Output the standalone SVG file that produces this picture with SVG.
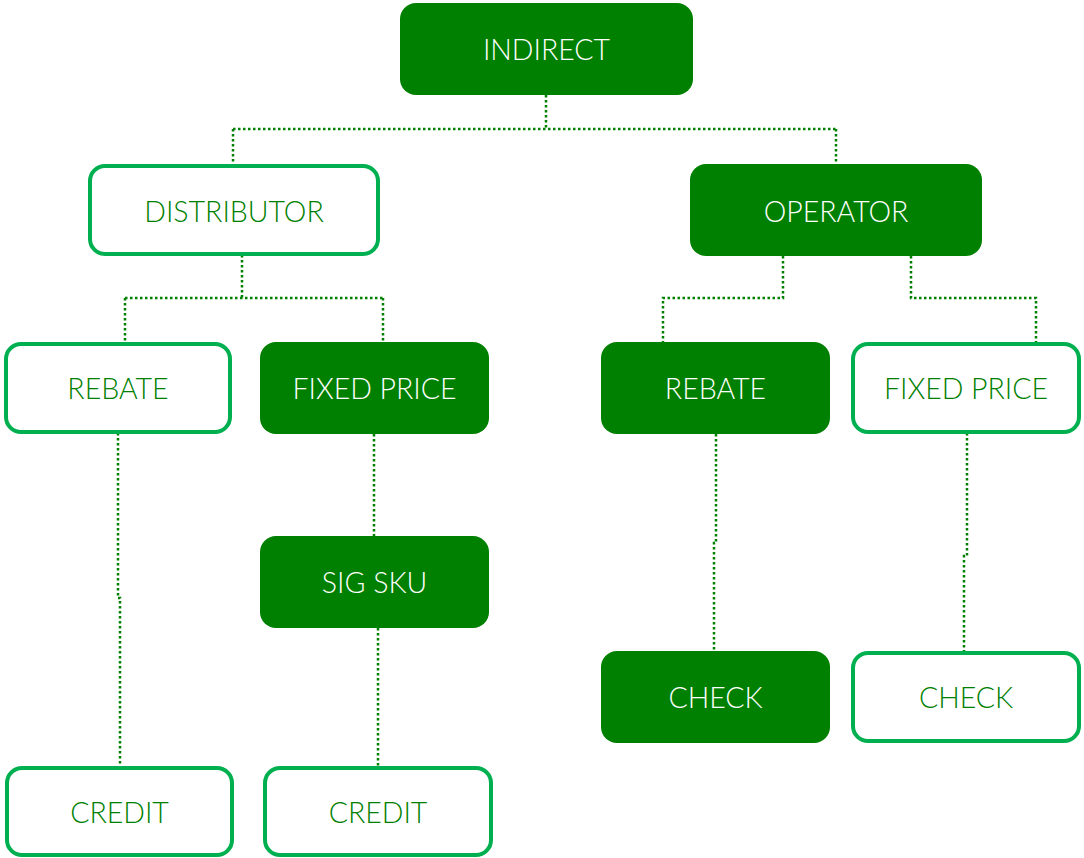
<svg xmlns="http://www.w3.org/2000/svg" width="1084" height="858" viewBox="0 0 1084 858">
  <style>
    .solid rect { fill: #008000; }
    .solid text { fill: #ffffff; }
    .outline rect { fill: #ffffff; stroke: #00B050; stroke-width: 4; }
    .outline text { fill: #008000; }
    text { font-family: "Lato", "Liberation Sans", sans-serif; font-weight: 300; font-size: 28.5px; text-anchor: middle; dominant-baseline: central; }
    .conn path { fill: none; stroke: #008000; stroke-width: 2.5; stroke-dasharray: 2.5 2.5; }
  </style>

  <!-- connectors -->
  <g class="conn">
    <path d="M546 95 V129 M233 129 H836 M233 129 V165 M836 129 V164"/>
    <path d="M242 255 V298 M125 298 H383 M125 298 V343 M383 298 V342"/>
    <path d="M783 256 V298 H663 V342"/>
    <path d="M911 256 V298 H1036 V343"/>
    <path d="M118 433 V598 H120 V767"/>
    <path d="M374 434 V536"/>
    <path d="M378 628 V767"/>
    <path d="M716 434 V543 H714 V651"/>
    <path d="M967 433 V556 H964 V652"/>
  </g>

  <g id="indirect" class="solid">
    <rect x="400" y="3" width="293" height="92" rx="16"/>
    <text x="546.5" y="49">INDIRECT</text>
  </g>
  <g id="distributor" class="outline">
    <rect x="90" y="166" width="288" height="88" rx="15"/>
    <text x="234" y="211">DISTRIBUTOR</text>
  </g>
  <g id="operator" class="solid">
    <rect x="690" y="164" width="292" height="92" rx="16"/>
    <text x="836" y="211">OPERATOR</text>
  </g>
  <g id="dist-rebate" class="outline">
    <rect x="6" y="344" width="224" height="88" rx="15"/>
    <text x="118" y="388">REBATE</text>
  </g>
  <g id="dist-fixed-price" class="solid">
    <rect x="260" y="342" width="229" height="92" rx="16"/>
    <text x="374.5" y="388">FIXED PRICE</text>
  </g>
  <g id="op-rebate" class="solid">
    <rect x="601" y="342" width="229" height="92" rx="16"/>
    <text x="715.5" y="388">REBATE</text>
  </g>
  <g id="op-fixed-price" class="outline">
    <rect x="853" y="344" width="226" height="88" rx="15"/>
    <text x="966" y="388">FIXED PRICE</text>
  </g>
  <g id="sig-sku" class="solid">
    <rect x="260" y="536" width="229" height="92" rx="16"/>
    <text x="374.5" y="582">SIG SKU</text>
  </g>
  <g id="op-rebate-check" class="solid">
    <rect x="601" y="651" width="229" height="92" rx="16"/>
    <text x="715.5" y="697">CHECK</text>
  </g>
  <g id="op-fixed-check" class="outline">
    <rect x="853" y="653" width="226" height="88" rx="15"/>
    <text x="966" y="697">CHECK</text>
  </g>
  <g id="dist-rebate-credit" class="outline">
    <rect x="7" y="768" width="225" height="87" rx="15"/>
    <text x="119.5" y="812">CREDIT</text>
  </g>
  <g id="sig-sku-credit" class="outline">
    <rect x="265" y="768" width="226" height="87" rx="15"/>
    <text x="378" y="812">CREDIT</text>
  </g>
</svg>
